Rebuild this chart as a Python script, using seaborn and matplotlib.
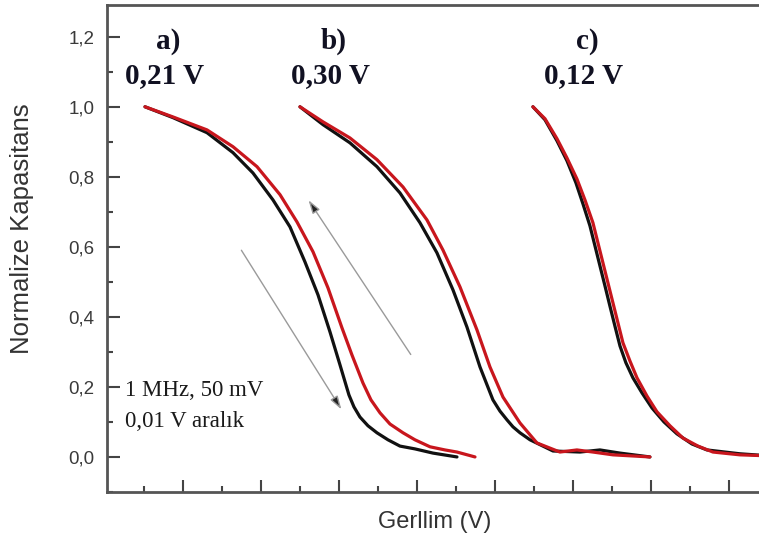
import numpy as np
import pandas as pd
import seaborn as sns
import matplotlib.pyplot as plt
from matplotlib.ticker import MultipleLocator

sns.set_style('ticks')
plt.rcParams['font.family'] = ['Liberation Sans', 'DejaVu Sans']

# a) egrileri
a_siyah_x = [-3.487, -3.128, -2.692, -2.359, -2.103, -1.846, -1.628, -1.436, -1.269, -1.115, -0.987, -0.872, -0.808, -0.731, -0.628, -0.513, -0.372, -0.218, -0.026, 0.205, 0.513]
a_siyah_y = [1.0, 0.969, 0.926, 0.869, 0.811, 0.734, 0.657, 0.557, 0.463, 0.357, 0.263, 0.177, 0.143, 0.114, 0.089, 0.069, 0.049, 0.031, 0.023, 0.011, 0.0]
a_kirmizi_x = [-3.487, -3.128, -2.692, -2.359, -2.051, -1.756, -1.538, -1.333, -1.141, -0.962, -0.833, -0.692, -0.59, -0.474, -0.346, -0.179, -0.026, 0.167, 0.359, 0.513, 0.744]
a_kirmizi_y = [1.0, 0.971, 0.934, 0.886, 0.829, 0.749, 0.671, 0.586, 0.483, 0.369, 0.291, 0.211, 0.163, 0.126, 0.094, 0.069, 0.049, 0.029, 0.02, 0.014, 0.0]

# b) egrileri
b_siyah_x = [-1.50, -1.205, -0.859, -0.513, -0.218, 0.038, 0.256, 0.462, 0.641, 0.808, 0.974, 1.064, 1.154, 1.231, 1.321, 1.449, 1.744, 2.09, 2.346, 2.603, 2.987]
b_siyah_y = [1.0, 0.949, 0.897, 0.829, 0.754, 0.669, 0.583, 0.477, 0.371, 0.257, 0.163, 0.131, 0.106, 0.086, 0.069, 0.049, 0.017, 0.014, 0.02, 0.011, 0.0]
b_kirmizi_x = [-1.50, -1.205, -0.859, -0.513, -0.179, 0.128, 0.333, 0.551, 0.769, 0.936, 1.103, 1.321, 1.538, 1.833, 2.051, 2.256, 2.513, 2.987]
b_kirmizi_y = [1.0, 0.957, 0.911, 0.849, 0.771, 0.677, 0.591, 0.486, 0.363, 0.257, 0.171, 0.097, 0.04, 0.014, 0.02, 0.014, 0.006, 0.0]

# c) egrileri
c_siyah_x = [1.487, 1.641, 1.795, 1.923, 2.038, 2.128, 2.218, 2.282, 2.346, 2.41, 2.474, 2.538, 2.603, 2.679, 2.769, 2.885, 3.013, 3.167, 3.333, 3.526, 3.718, 4.141, 4.526]
c_siyah_y = [1.0, 0.963, 0.903, 0.846, 0.783, 0.723, 0.66, 0.603, 0.546, 0.489, 0.431, 0.374, 0.317, 0.269, 0.226, 0.183, 0.14, 0.1, 0.066, 0.037, 0.02, 0.009, 0.003]
c_kirmizi_x = [1.487, 1.641, 1.795, 1.923, 2.051, 2.154, 2.256, 2.321, 2.385, 2.449, 2.513, 2.577, 2.641, 2.731, 2.821, 2.949, 3.077, 3.244, 3.41, 3.603, 3.795, 4.141, 4.526]
c_kirmizi_y = [1.0, 0.966, 0.909, 0.854, 0.794, 0.734, 0.669, 0.611, 0.554, 0.497, 0.44, 0.383, 0.326, 0.274, 0.226, 0.174, 0.129, 0.089, 0.054, 0.031, 0.014, 0.006, 0.003]

etiketler = ['a)', 'b)', 'c)']
gerilimler = ['0,21 V', '0,30 V', '0,12 V']
etiket_x = [-3.23, -1.11, 2.14]

egriler = [(a_siyah_x, a_siyah_y, '#111111'), (a_kirmizi_x, a_kirmizi_y, '#c8161d'),
           (b_siyah_x, b_siyah_y, '#111111'), (b_kirmizi_x, b_kirmizi_y, '#c8161d'),
           (c_siyah_x, c_siyah_y, '#111111'), (c_kirmizi_x, c_kirmizi_y, '#c8161d')]

fig = plt.figure(figsize=(7.59, 5.43), dpi=100)
ax = fig.add_axes([0.141, 0.094, 0.88, 0.897])

for x, y, renk in egriler:
    sns.lineplot(x=x, y=y, color=renk, sort=False, estimator=None, linewidth=2.3,
                 solid_joinstyle='round', solid_capstyle='round', ax=ax)

ax.set_xlim(-3.974, 4.59)
ax.set_ylim(-0.1, 1.291)

ax.xaxis.set_major_locator(MultipleLocator(1.0))
ax.xaxis.set_minor_locator(MultipleLocator(0.5))
ax.yaxis.set_major_locator(MultipleLocator(0.2))
ax.yaxis.set_minor_locator(MultipleLocator(0.1))
ax.yaxis.set_major_formatter(plt.FuncFormatter(lambda v, p: ('%.1f' % v).replace('.', ',')))
ax.tick_params(axis='x', which='both', labelbottom=False)
ax.tick_params(which='major', direction='in', length=9, width=1.5, color='#444444')
ax.tick_params(which='minor', direction='in', length=4.5, width=1.5, color='#444444')
ax.tick_params(axis='y', labelsize=13.5, labelcolor='#3a3a3a', pad=9)

for s in ['left', 'bottom', 'top']:
    ax.spines[s].set_linewidth(2)
    ax.spines[s].set_color('#555555')
ax.spines['right'].set_visible(False)

ax.set_xlabel('Gerllim (V)', fontsize=17, color='#333333')
ax.set_ylabel('Normalize Kapasitans', fontsize=18.5, color='#333333')
ax.xaxis.set_label_coords(0.491, -0.04)
ax.yaxis.set_label_coords(-0.11, 0.54)

for xx, et, gv in zip(etiket_x, etiketler, gerilimler):
    ax.text(xx + 0.04, 1.186, et, ha='center', va='center', fontsize=21, fontweight='bold',
            family=['Liberation Serif'], color='#111122')
    ax.text(xx, 1.089, gv, ha='center', va='center', fontsize=21, fontweight='bold',
            family=['Liberation Serif'], color='#111122')

ax.text(-3.74, 0.19, '1 MHz, 50 mV', ha='left', va='center', fontsize=16.5,
        family=['Liberation Serif'], color='#1a1a1a')
ax.text(-3.74, 0.10, '0,01 V aralık', ha='left', va='center', fontsize=16.5,
        family=['Liberation Serif'], color='#1a1a1a')

ok = dict(arrowstyle='-|>,head_length=0.8,head_width=0.25', fc='#222222', ec='#9a9a9a', lw=1.0)
ax.annotate('', xy=(-0.95, 0.129), xytext=(-2.27, 0.597), arrowprops=ok)
ax.annotate('', xy=(-1.41, 0.74), xytext=(-0.06, 0.286), arrowprops=ok)

plt.savefig('out.png', dpi=100)
